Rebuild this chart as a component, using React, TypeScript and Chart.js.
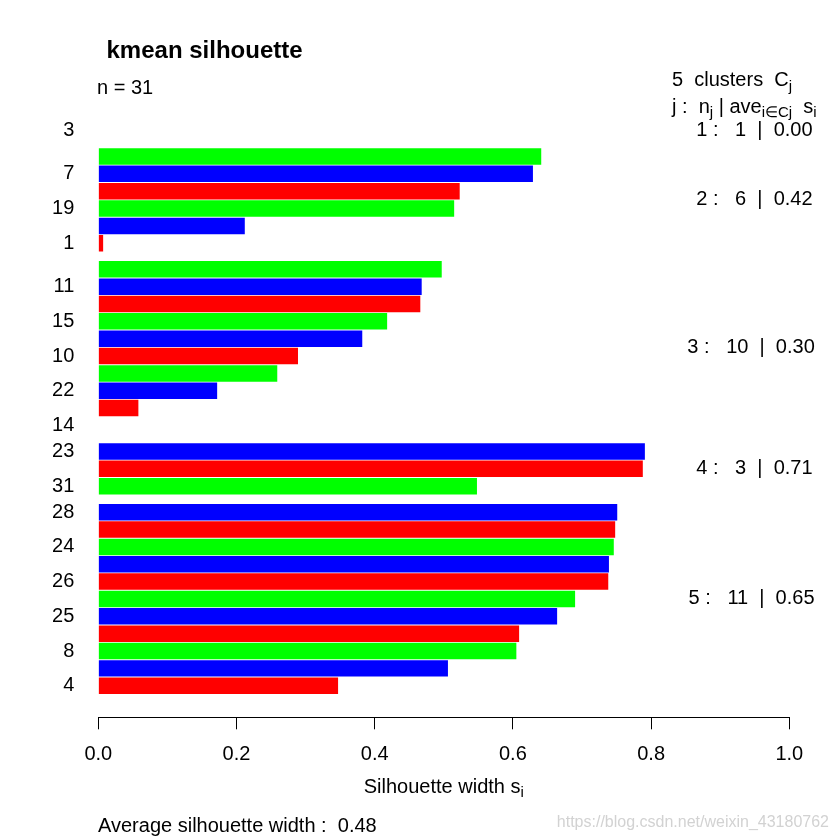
import { useEffect, useRef } from 'react';
import { Chart, registerables } from 'chart.js';

Chart.register(...registerables);

// ---------- data ----------
const chartTitle = 'kmean silhouette';
const nObs = 31;
const clusterIds = [1, 2, 3, 4, 5];
const clusterSizes = [1, 6, 10, 3, 11];
const clusterAvgWidths = [0.0, 0.42, 0.3, 0.71, 0.65];
const avgSilWidth = 0.48;

// silhouette widths, top bar first
const silWidths = [
  0.0,
  0.641, 0.629, 0.523, 0.515, 0.212, 0.007,
  0.497, 0.468, 0.466, 0.418, 0.382, 0.289, 0.259, 0.172, 0.058, 0.0,
  0.791, 0.788, 0.548,
  0.751, 0.748, 0.746, 0.739, 0.738, 0.69, 0.664, 0.609, 0.605, 0.506, 0.347,
];

// observation labels, top bar first ('' = label not printed in the reference)
const obsLabels = [
  '3',
  '', '7', '', '19', '', '1',
  '', '11', '', '15', '', '10', '', '22', '', '14',
  '23', '', '31',
  '28', '', '24', '', '26', '', '25', '', '8', '', '4',
];

const xTickStep = 0.2;

// ---------- styles ----------
const barCycleFromBottom = ['#FF0000', '#0000FF', '#00FF00'];
const FONT = '"Liberation Sans", Arial, Helvetica, sans-serif';
const BASE = 20;
const SUB = 15;
const SUB_DROP = 4.5;
const CLUSTER_GAP = 0.5;

type Part = { t: string; sub?: boolean };

function drawRich(ctx: CanvasRenderingContext2D, x: number, y: number, parts: Part[], align: 'left' | 'center' = 'left') {
  const widths = parts.map((p) => {
    ctx.font = `${p.sub ? SUB : BASE}px ${FONT}`;
    return ctx.measureText(p.t).width;
  });
  const total = widths.reduce((a, b) => a + b, 0);
  let cx = align === 'left' ? x : x - total / 2;
  ctx.textAlign = 'left';
  ctx.textBaseline = 'alphabetic';
  parts.forEach((p, i) => {
    ctx.font = `${p.sub ? SUB : BASE}px ${FONT}`;
    ctx.fillText(p.t, cx, p.sub ? y + SUB_DROP : y);
    cx += widths[i];
  });
}

export default function App() {
  const ref = useRef<HTMLCanvasElement>(null);

  useEffect(() => {
    document.body.style.margin = '0';
    const clusterOfBar: number[] = clusterSizes.flatMap((n, c) => Array(n).fill(c));
    const barPos = silWidths.map((_, i) => i + CLUSTER_GAP * clusterOfBar[i]);
    const last = barPos[barPos.length - 1];
    const span = last + 1;
    const ext = 0.04 * span;
    const yMin = -0.5 - ext;
    const yMax = last + 0.5 + ext;
    const nBars = silWidths.length;
    const colors = silWidths.map((_, i) => barCycleFromBottom[(nBars - 1 - i) % 3]);
    const tickPos = barPos.filter((_, i) => obsLabels[i] !== '');
    const labelAt = (v: number) => {
      const i = barPos.findIndex((p) => Math.abs(p - v) < 1e-6);
      return i >= 0 ? obsLabels[i] : '';
    };

    const textPlugin = {
      id: 'silText',
      afterDraw(chart: any) {
        const ctx: CanvasRenderingContext2D = chart.ctx;
        const xs = chart.scales.x;
        const ys = chart.scales.y;
        ctx.save();
        ctx.fillStyle = '#000';
        // title
        ctx.font = `bold 24px ${FONT}`;
        ctx.textAlign = 'left';
        ctx.textBaseline = 'alphabetic';
        ctx.fillText(chartTitle, 106.5, 58.3);
        // n = 31
        ctx.font = `${BASE}px ${FONT}`;
        ctx.fillText(`n = ${nObs}`, 97, 94);
        // legend header
        drawRich(ctx, 672, 86, [{ t: `${clusterIds.length}  clusters  C` }, { t: 'j', sub: true }]);
        drawRich(ctx, 672, 112.7, [
          { t: 'j :  n' },
          { t: 'j', sub: true },
          { t: ' | ave' },
          { t: 'i\u2208Cj', sub: true },
          { t: '  s' },
          { t: 'i', sub: true },
        ]);
        // per-cluster stats
        ctx.font = `${BASE}px ${FONT}`;
        ctx.textBaseline = 'middle';
        ctx.textAlign = 'left';
        let start = 0;
        clusterIds.forEach((id, c) => {
          const n = clusterSizes[c];
          const ps = barPos.slice(start, start + n);
          start += n;
          const mean = ps.reduce((a, b) => a + b, 0) / ps.length;
          const s = `${id} :   ${n}  |  ${clusterAvgWidths[c].toFixed(2)}`;
          const w = ctx.measureText(s).width;
          ctx.fillText(s, xs.getPixelForValue(1) - 0.8 * w, ys.getPixelForValue(mean));
        });
        // x title
        drawRich(ctx, xs.getPixelForValue(0.5), 792.5, [{ t: 'Silhouette width s' }, { t: 'i', sub: true }], 'center');
        // average
        ctx.font = `${BASE}px ${FONT}`;
        ctx.textBaseline = 'alphabetic';
        ctx.textAlign = 'left';
        ctx.fillText(`Average silhouette width :  ${avgSilWidth.toFixed(2)}`, 98, 831.7);
        // watermark
        ctx.font = `16px ${FONT}`;
        ctx.fillStyle = '#d2d2d2';
        ctx.textAlign = 'right';
        ctx.fillText('https://blog.csdn.net/weixin_43180762', 829, 827);
        ctx.restore();
      },
    };

    const chart = new Chart(ref.current!, {
      type: 'bar',
      data: {
        datasets: [
          {
            data: silWidths.map((v, i) => ({ x: v, y: barPos[i] })),
            backgroundColor: colors,
            borderWidth: 0,
            barPercentage: 0.95,
            categoryPercentage: 1,
          },
        ],
      },
      options: {
        indexAxis: 'y',
        responsive: false,
        animation: false,
        devicePixelRatio: 1,
        layout: { padding: { top: 98.9, right: 50.7, bottom: 0, left: 0 } },
        plugins: { legend: { display: false }, tooltip: { enabled: false }, title: { display: false } },
        scales: {
          x: {
            type: 'linear',
            position: 'bottom',
            min: 0,
            max: 1,
            ticks: {
              stepSize: xTickStep,
              padding: 13,
              color: '#000',
              maxRotation: 0,
              autoSkip: false,
              font: { family: FONT, size: BASE },
              callback: (v: any) => Number(v).toFixed(1),
            },
            grid: { drawOnChartArea: false, drawTicks: true, tickLength: 12, color: '#000', lineWidth: 1 },
            border: { display: true, color: '#000', width: 1 },
            afterFit: (s: any) => {
              s.height = 122.7;
            },
          },
          y: {
            type: 'linear',
            position: 'left',
            reverse: true,
            min: yMin,
            max: yMax,
            offset: false,
            grid: { display: false, drawTicks: false },
            border: { display: false },
            afterBuildTicks: (s: any) => {
              s.ticks = tickPos.map((v) => ({ value: v }));
            },
            ticks: {
              autoSkip: false,
              padding: 24,
              color: '#000',
              font: { family: FONT, size: BASE },
              callback: (v: any) => labelAt(Number(v)),
            },
            afterFit: (s: any) => {
              s.width = 98.3;
            },
          },
        },
      } as any,
      plugins: [textPlugin],
    });
    return () => chart.destroy();
  }, []);

  return (
    <div style={{ width: 840, height: 840, position: 'relative' }}>
      <canvas ref={ref} width={840} height={840} style={{ display: 'block', width: 840, height: 840 }} />
    </div>
  );
}
